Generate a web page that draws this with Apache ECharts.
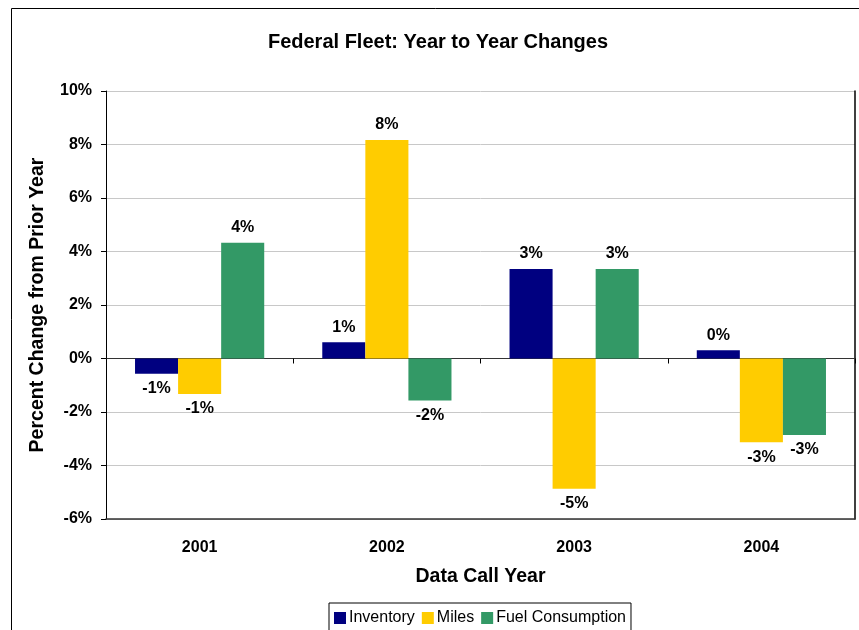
<!DOCTYPE html>
<html>
<head>
<meta charset="utf-8">
<script src="https://cdn.jsdelivr.net/npm/echarts@6/dist/echarts.min.js"></script>
<style>
    html, body { margin: 0; padding: 0; background: #ffffff; }
    #chart { width: 859px; height: 630px; }
</style>
</head>
<body>
<div id="chart"></div>
<script>
    // data, in percent
    var years = ['2001', '2002', '2003', '2004'];
    var inventory = [-0.57, 0.61, 3.35, 0.31];
    var miles = [-1.33, 8.17, -4.87, -3.13];
    var fuel = [4.33, -1.57, 3.35, -2.86];
    var yTicks = [-6, -4, -2, 0, 2, 4, 6, 8, 10];

    var font = '"Liberation Sans", Arial, sans-serif';

    // label goes above positive bars, below negative ones
    function withLabels(arr) {
        return arr.map(function (v) {
            return { value: v, label: { position: v >= 0 ? 'top' : 'bottom' } };
        });
    }

    function barSeries(name, arr, color) {
        return {
            type: 'bar',
            name: name,
            xAxisIndex: 0,
            data: withLabels(arr),
            barWidth: '23%',
            barGap: '0%',
            itemStyle: { color: color },
            label: {
                show: true,
                distance: 7,
                fontFamily: font,
                fontWeight: 'bold',
                fontSize: 16,
                color: '#000',
                formatter: function (p) { return Math.round(p.value) + '%'; }
            }
        };
    }

    var myChart = echarts.init(document.getElementById('chart'));
    myChart.setOption({
        animation: false,
        textStyle: { fontFamily: font },
        graphic: [{
            type: 'rect',
            shape: { x: 11.5, y: 8.5, width: 900, height: 700 },
            style: { fill: 'none', stroke: '#000', lineWidth: 1 },
            silent: true,
            z: -1
        }],
        title: {
            text: 'Federal Fleet: Year to Year Changes',
            left: 433,
            textAlign: 'center',
            top: 27,
            textStyle: { fontFamily: font, fontWeight: 'bold', fontSize: 20, color: '#000' }
        },
        legend: {
            data: ['Inventory', 'Miles', 'Fuel Consumption'],
            left: 329,
            top: 603,
            orient: 'horizontal',
            borderColor: '#000',
            borderWidth: 1,
            padding: [7, 5, 8, 5],
            itemWidth: 12,
            itemHeight: 12,
            itemGap: 7,
            icon: 'rect',
            textStyle: { fontFamily: font, fontSize: 16, color: '#000', padding: [0, 0, 0, -2] }
        },
        grid: { left: 106, right: 4, top: 91, bottom: 111 },
        xAxis: [{
            type: 'category',
            data: years,
            position: 'bottom',
            name: 'Data Call Year',
            nameLocation: 'middle',
            nameGap: 48,
            nameTextStyle: { fontFamily: font, fontWeight: 'bold', fontSize: 19.5, color: '#000' },
            axisLine: { onZero: false, lineStyle: { color: '#333', width: 1.5 } },
            axisTick: { show: false },
            axisLabel: { margin: 21, fontFamily: font, fontWeight: 'bold', fontSize: 16, color: '#000' },
            splitLine: { show: false }
        }, {
            // category axis crossing at zero, ticks between groups
            type: 'category',
            data: years,
            position: 'bottom',
            axisLine: { onZero: true, lineStyle: { color: '#333', width: 1 } },
            axisTick: { show: true, length: 5, lineStyle: { color: '#000' } },
            axisLabel: { show: false },
            splitLine: { show: false }
        }],
        yAxis: [{
            type: 'value',
            min: -6,
            max: 10,
            interval: 2,
            name: 'Percent Change from Prior Year',
            nameLocation: 'middle',
            nameGap: 58,
            nameTextStyle: { fontFamily: font, fontWeight: 'bold', fontSize: 19.5, color: '#000' },
            axisLine: { show: true, lineStyle: { color: '#000', width: 1 } },
            axisTick: { show: true, length: 5, lineStyle: { color: '#000' } },
            axisLabel: {
                margin: 14,
                fontFamily: font,
                fontWeight: 'bold',
                fontSize: 16,
                color: '#000',
                formatter: function (v) { return yTicks.indexOf(v) >= 0 ? v + '%' : ''; }
            },
            splitLine: { show: true, lineStyle: { color: '#c8c8c8', width: 1 } }
        }, {
            // right border of the plot area
            type: 'value',
            min: -6,
            max: 10,
            interval: 2,
            position: 'right',
            axisLine: { show: true, lineStyle: { color: '#000', width: 1.5 } },
            axisTick: { show: false },
            axisLabel: { show: false },
            splitLine: { show: false }
        }],
        series: [
            barSeries('Inventory', inventory, '#000080'),
            barSeries('Miles', miles, '#ffcc00'),
            barSeries('Fuel Consumption', fuel, '#339966')
        ]
    });
</script>
</body>
</html>
